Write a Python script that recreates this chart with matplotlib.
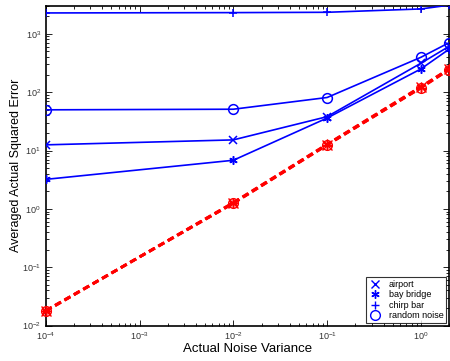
import matplotlib
matplotlib.use("Agg")
import matplotlib.pyplot as plt
from matplotlib.lines import Line2D

plt.rcParams['font.family'] = ['Liberation Sans', 'DejaVu Sans']
plt.rcParams['mathtext.fontset'] = 'custom'
plt.rcParams['mathtext.rm'] = 'Liberation Sans'

noise_var = [1e-4, 1e-2, 1e-1, 1.0, 2.0]

# estimated (blue, solid)
est_airport = [12.5, 15.2, 38.0, 313.0, 610.0]
est_bay_bridge = [3.2, 6.8, 36.0, 250.0, 545.0]
est_chirp_bar = [2280.0, 2310.0, 2340.0, 2670.0, 3100.0]
est_random_noise = [49.8, 51.0, 81.0, 396.0, 705.0]

# actual (red, dashed)
act_airport = [0.0178, 1.26, 12.6, 122.0, 248.0]
act_bay_bridge = [0.0176, 1.28, 12.8, 124.0, 250.0]
act_chirp_bar = [0.0180, 1.24, 12.4, 120.0, 246.0]
act_random_noise = [0.0179, 1.25, 12.5, 118.0, 244.0]

legend_labels = ['airport', 'bay bridge', 'chirp bar', 'random noise']
markers = ['x', (6, 2, 0), '+', 'o']

fig = plt.figure(figsize=(4.5, 3.61), dpi=100)
ax = fig.add_axes([0.1016, 0.0983, 0.8964, 0.8851])

est = [est_airport, est_bay_bridge, est_chirp_bar, est_random_noise]
act = [act_airport, act_bay_bridge, act_chirp_bar, act_random_noise]

for vals, mk in zip(act, markers):
    ax.plot(noise_var, vals, color='#ff0000', linestyle=(0, (2.4, 1.5)), lw=2.0,
            marker=mk, markersize=7, markerfacecolor='none',
            markeredgecolor='#ff0000', markeredgewidth=1.0, clip_on=False, zorder=3)

for vals, mk in zip(est, markers):
    ax.plot(noise_var, vals, color='#0000ff', linestyle='-', lw=1.2,
            marker=mk, markersize=7 if mk == 'o' else 6, markerfacecolor='none',
            markeredgecolor='#0000ff', markeredgewidth=1.1, clip_on=True, zorder=4)

ax.set_xscale('log')
ax.set_yscale('log')
ax.set_xlim(1e-4, 2.0)
ax.set_ylim(1e-2, 3000)

ax.tick_params(which='both', direction='in', top=True, right=True,
               labelsize=6.5, labelcolor='#333333', width=0.6)
ax.tick_params(which='major', length=4)
ax.tick_params(which='minor', length=2)
for s in ax.spines.values():
    s.set_linewidth(1.2)

ax.set_xlabel('Actual Noise Variance', fontsize=9.5, labelpad=1)
ax.set_ylabel('Averaged Actual Squared Error', fontsize=9, labelpad=0)

handles = [Line2D([], [], linestyle='none', marker=mk, color='#0000ff',
                  markerfacecolor='none', markersize=6 if mk != 'o' else 7,
                  markeredgewidth=1.0) for mk in markers]
leg = ax.legend(handles, legend_labels, loc='lower right', fontsize=6.5,
                frameon=True, fancybox=False, edgecolor='black',
                borderpad=0.3, labelspacing=0.15, handletextpad=0.8,
                handlelength=1.4, borderaxespad=0.3)
leg.get_frame().set_linewidth(0.8)

fig.savefig('out.png', dpi=100)
